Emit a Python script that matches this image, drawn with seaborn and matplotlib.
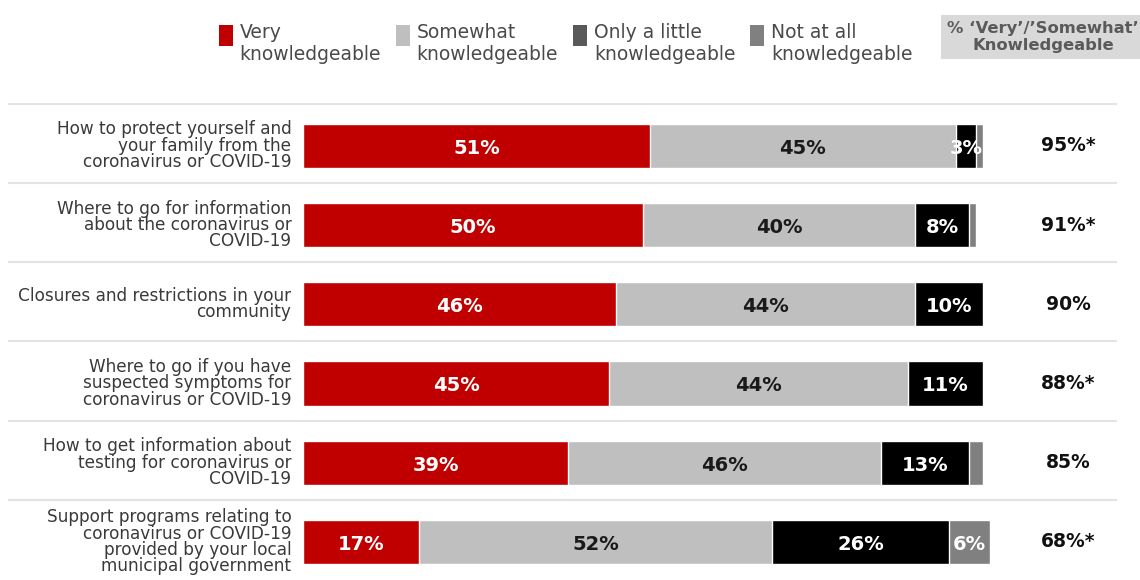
import matplotlib
matplotlib.use("Agg")
import matplotlib.pyplot as plt
import seaborn as sns
import pandas as pd
import numpy as np
from matplotlib.patches import Patch, Rectangle
from matplotlib.legend_handler import HandlerPatch

categories = [
    "How to protect yourself and\nyour family from the\ncoronavirus or COVID-19",
    "Where to go for information\nabout the coronavirus or\nCOVID-19",
    "Closures and restrictions in your\ncommunity",
    "Where to go if you have\nsuspected symptoms for\ncoronavirus or COVID-19",
    "How to get information about\ntesting for coronavirus or\nCOVID-19",
    "Support programs relating to\ncoronavirus or COVID-19\nprovided by your local\nmunicipal government",
]
very = [51, 50, 46, 45, 39, 17]
somewhat = [45, 40, 44, 44, 46, 52]
little = [3, 8, 10, 11, 13, 26]
not_at_all = [1, 1, 0, 0, 2, 6]
totals = ["95%*", "91%*", "90%", "88%*", "85%", "68%*"]
series_names = ["Very\nknowledgeable", "Somewhat\nknowledgeable",
                "Only a little\nknowledgeable", "Not at all\nknowledgeable"]
header = "% \u2018Very\u2019/\u2019Somewhat\u2019\nKnowledgeable"

bar_colors = ["#C00000", "#BFBFBF", "#000000", "#808080"]
legend_colors = ["#C00000", "#BFBFBF", "#595959", "#808080"]

sns.set_theme(style="white")
plt.rcParams["font.family"] = ["DejaVu Sans"]

df = pd.DataFrame({"cat": categories, "very": very, "somewhat": somewhat,
                   "little": little, "not": not_at_all})
df["c1"] = df["very"]
df["c2"] = df["c1"] + df["somewhat"]
df["c3"] = df["c2"] + df["little"]
df["c4"] = df["c3"] + df["not"]

fig = plt.figure(figsize=(11.4, 5.8), dpi=100)
ax = fig.add_axes([8/1140, 0, (1117-8)/1140, 1 - 103/580])

bw = 0.56
for col, color in zip(["c4", "c3", "c2", "c1"], bar_colors[::-1]):
    sns.barplot(data=df, y="cat", x=col, orient="h", color=color, width=bw,
                edgecolor="white", linewidth=1, ax=ax, saturation=1)

ppx = 6.8
ax.set_xlim((8 - 303) / ppx, (1117 - 303) / ppx)
ax.set_ylim(5.48, -0.54)
ax.set_xticks([]); ax.set_yticks([])
ax.set_xlabel(""); ax.set_ylabel("")
for s in ax.spines.values():
    s.set_visible(False)

# separators
for i in range(6):
    ax.axhline(i - 0.53, color="#E3E3E3", lw=1.5, zorder=0)

# category labels
for i, cat in enumerate(categories):
    ax.text(-1.7, i, cat, ha="right", va="center", fontsize=12.2,
            color="#3A3A3A", linespacing=0.88)

# value labels
for i in range(6):
    segs = [(0, very[i], "white"), (very[i], somewhat[i], "#1A1A1A"),
            (very[i] + somewhat[i], little[i], "white"),
            (very[i] + somewhat[i] + little[i], not_at_all[i], "white")]
    for start, v, tc in segs:
        if v >= 3:
            ax.text(start + v / 2, i + 0.03, f"{v}%", ha="center", va="center",
                    fontsize=14, fontweight="bold", color=tc)
    ax.text((1068 - 303) / ppx, i, totals[i], ha="center", va="center",
            fontsize=13.5, fontweight="bold", color="#111111")

# header box
fig.text(1043/1140, 1 - 37/580, header, ha="center", va="center",
         fontsize=11.8, fontweight="bold", color="#5A5A5A", linespacing=1.12,
         bbox=dict(boxstyle="square,pad=0.4", fc="#D9D9D9", ec="none"))


def top_patch(legend, orig_handle, xdescent, ydescent, width, height, fontsize):
    return Rectangle((-xdescent, -ydescent + 0.5 * fontsize), width, height)


handles = [Patch(facecolor=c, edgecolor="none") for c in legend_colors]
fig.legend(handles, series_names, loc="upper left",
           bbox_to_anchor=(219/1140, 1 - 23/580), ncol=4, frameon=False,
           fontsize=13.5, handlelength=0.75, handleheight=1.35, handletextpad=0.35,
           columnspacing=0.8, labelcolor="#4A4A4A", borderpad=0, borderaxespad=0,
           labelspacing=0, handler_map={Patch: HandlerPatch(patch_func=top_patch)})

fig.savefig("out.png", dpi=100)
